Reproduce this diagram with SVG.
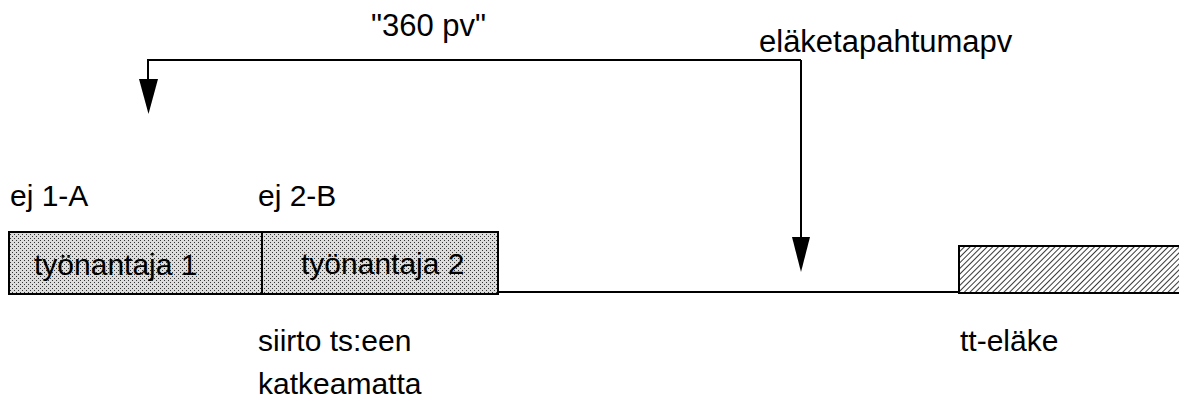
<svg xmlns="http://www.w3.org/2000/svg" width="1179" height="408" viewBox="0 0 1179 408">
<style>
text{font-family:"Liberation Sans",Arial,sans-serif;font-size:30px;fill:#000}
.top{font-size:31px}
.ln{stroke:#000;stroke-width:2;fill:none}
.box{stroke:#000;stroke-width:2}
.head{fill:#000}
</style>
<defs>
<pattern id="dots" width="4" height="4" patternUnits="userSpaceOnUse">
<rect width="4" height="4" fill="#dcdcdc"/>
<rect x="0" y="0" width="1" height="1" fill="#333"/>
<rect x="2" y="2" width="1" height="1" fill="#333"/>
</pattern>
<pattern id="hatch" width="4" height="4" patternUnits="userSpaceOnUse" patternTransform="rotate(45)">
<rect width="4" height="4" fill="#fff"/>
<line x1="0" y1="0" x2="0" y2="4" stroke="#222" stroke-width="1.8"/>
</pattern>
</defs>
<g id="connectors">
<path class="ln" d="M801,60 H148 V79"/>
<path class="head" d="M139,79 L158,79 L148.5,114 Z"/>
<path class="ln" d="M801,60 V237"/>
<path class="head" d="M792,237 L810,237 L801,272 Z"/>
<path class="ln" d="M498,292 H959"/>
</g>
<g id="label-360">
<text class="top" x="371" y="36">"360 pv"</text>
</g>
<g id="label-elake">
<text class="top" x="759" y="52">eläketapahtumapv</text>
</g>
<g id="ej1">
<text x="10" y="206">ej 1-A</text>
</g>
<g id="ej2">
<text x="258" y="206">ej 2-B</text>
</g>
<g id="tyonantaja1">
<rect class="box" x="9" y="232" width="253" height="62" fill="url(#dots)"/>
<text x="34" y="275">työnantaja 1</text>
</g>
<g id="tyonantaja2">
<rect class="box" x="262" y="232" width="236" height="62" fill="url(#dots)"/>
<text x="301" y="274">työnantaja 2</text>
</g>
<g id="tt-elake">
<rect class="box" x="959" y="246" width="225" height="47" fill="url(#hatch)"/>
<text x="960" y="351">tt-eläke</text>
</g>
<g id="siirto">
<text x="258" y="351">siirto ts:een</text>
<text x="258" y="394">katkeamatta</text>
</g>
</svg>
